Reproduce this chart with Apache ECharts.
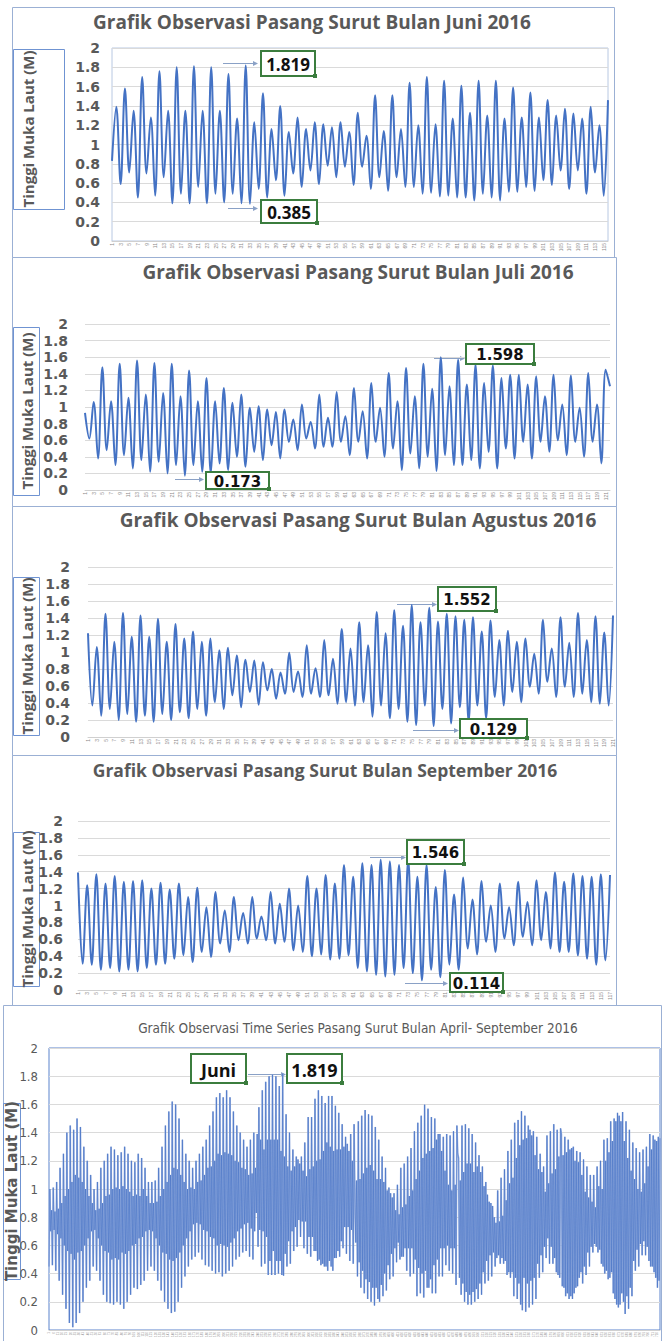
<!DOCTYPE html>
<html>
<head>
<meta charset="utf-8">
<script src="https://cdn.jsdelivr.net/npm/echarts@6/dist/echarts.min.js"></script>
<style>
html,body{margin:0;padding:0;background:#fff}
#chart{width:667px;height:1341px}
</style>
</head>
<body>
<div id="chart"></div>
<script>
// Successive high and low water levels (m), one array per month, 2016
const aprilTide = [
  0.45,1.00,0.70,0.85, 0.46,1.01,0.71,0.84, 0.42,1.05,0.68,0.86, 0.35,1.15,0.65,0.90, 0.25,1.25,0.60,0.95,
  0.15,1.40,0.56,1.00, 0.05,1.45,0.54,1.05, 0.02,1.42,0.50,1.10, 0.05,1.50,0.55,1.08, 0.12,1.44,0.56,1.05,
  0.20,1.30,0.60,1.00, 0.30,1.20,0.65,0.95, 0.35,1.10,0.70,0.90, 0.45,1.00,0.71,0.85, 0.42,1.05,0.65,0.86,
  0.35,1.15,0.60,0.90, 0.25,1.20,0.56,0.95, 0.20,1.25,0.55,0.96, 0.19,1.30,0.50,1.00, 0.18,1.28,0.51,1.01,
  0.20,1.24,0.50,1.00, 0.18,1.26,0.55,1.02, 0.15,1.30,0.54,1.00, 0.20,1.25,0.56,0.98, 0.25,1.20,0.60,0.95,
  0.30,1.19,0.61,0.96, 0.29,1.25,0.65,0.95, 0.32,1.22,0.66,1.00, 0.35,1.15,0.70,0.95, 0.42,1.05,0.71,0.90
];
const meiTide = [
  0.45,1.05,0.70,0.90, 0.42,1.06,0.65,0.91, 0.35,1.15,0.60,0.95, 0.28,1.30,0.55,1.00, 0.20,1.45,0.54,1.05,
  0.15,1.55,0.50,1.10, 0.12,1.62,0.49,1.15, 0.13,1.60,0.51,1.14, 0.20,1.50,0.55,1.10, 0.30,1.35,0.60,1.05,
  0.38,1.25,0.65,1.00, 0.45,1.20,0.70,1.01, 0.50,1.15,0.75,1.00, 0.52,1.20,0.76,1.05, 0.55,1.25,0.75,1.06,
  0.50,1.30,0.71,1.10, 0.46,1.35,0.70,1.15, 0.45,1.45,0.66,1.16, 0.42,1.55,0.65,1.20, 0.40,1.65,0.60,1.25,
  0.41,1.68,0.61,1.24, 0.38,1.65,0.60,1.26, 0.40,1.70,0.59,1.25, 0.42,1.65,0.62,1.24, 0.45,1.55,0.65,1.20,
  0.50,1.45,0.70,1.19, 0.52,1.40,0.72,1.15, 0.55,1.35,0.75,1.14, 0.56,1.30,0.76,1.10, 0.52,1.35,0.72,1.11,
  0.50,1.40,0.70,1.15
];
const juniTide = [
  0.83,1.39,0.59,1.58,0.71,1.35,0.45,1.70,0.70,1.28,0.47,1.76,0.66,1.35,0.39,1.80,0.49,1.35,0.39,1.81,
  0.56,1.35,0.39,1.80,0.49,1.35,0.40,1.73,0.49,1.27,0.39,1.819,0.385,1.23,0.54,1.53,0.45,1.16,0.63,1.40,
  0.47,1.13,0.70,1.28,0.56,1.16,0.73,1.23,0.59,1.21,0.78,1.18,0.66,1.23,0.77,1.13,0.58,1.33,0.77,1.09,
  0.54,1.51,0.66,1.14,0.52,1.51,0.66,1.16,0.56,1.64,0.56,1.20,0.49,1.70,0.50,1.21,0.46,1.66,0.47,1.27,
  0.45,1.61,0.45,1.33,0.42,1.66,0.49,1.30,0.45,1.66,0.42,1.27,0.51,1.59,0.51,1.28,0.56,1.54,0.52,1.28,
  0.63,1.46,0.58,1.30,0.73,1.37,0.54,1.32,0.73,1.27,0.49,1.39,0.71,1.20,0.47,1.46
];
const juliTide = [
  0.93,0.62,1.06,0.38,1.48,0.48,1.07,0.30,1.52,0.42,1.11,0.26,1.56,0.36,1.15,0.22,1.53,0.34,1.17,0.20,
  1.52,0.30,1.13,0.173,1.44,0.30,1.07,0.22,1.35,0.20,1.07,0.32,1.23,0.24,1.05,0.40,1.15,0.28,0.99,0.46,
  1.01,0.36,0.97,0.54,0.94,0.38,0.97,0.58,0.85,0.48,1.03,0.62,0.82,0.50,1.15,0.52,0.87,0.52,1.18,0.58,
  0.89,0.42,1.23,0.58,0.95,0.38,1.29,0.58,0.99,0.40,1.41,0.50,1.07,0.24,1.47,0.44,1.13,0.26,1.52,0.40,
  1.22,0.23,1.598,0.42,1.25,0.30,1.57,0.30,1.27,0.36,1.51,0.26,1.29,0.46,1.50,0.26,1.35,0.50,1.39,0.38,
  1.39,0.58,1.27,0.38,1.37,0.58,1.13,0.46,1.39,0.60,1.03,0.42,1.38,0.58,0.99,0.40,1.41,0.58,1.03,0.32,
  1.45,1.25
];
const agustusTide = [
  1.22,0.37,1.06,0.25,1.45,0.33,1.12,0.20,1.46,0.27,1.18,0.18,1.43,0.25,1.18,0.18,1.39,0.27,1.12,0.20,
  1.33,0.29,1.16,0.22,1.24,0.33,1.12,0.25,1.16,0.41,1.02,0.33,1.05,0.49,0.96,0.35,0.91,0.53,0.90,0.38,
  0.88,0.55,0.80,0.45,0.76,0.51,0.99,0.53,0.77,0.47,1.08,0.51,0.81,0.47,1.14,0.49,0.92,0.39,1.27,0.41,
  1.04,0.37,1.35,0.41,1.08,0.24,1.47,0.37,1.22,0.22,1.49,0.33,1.31,0.18,1.552,0.14,1.35,0.37,1.52,0.129,
  1.36,0.33,1.45,0.16,1.42,0.35,1.38,0.18,1.41,0.37,1.24,0.22,1.37,0.47,1.14,0.37,1.25,0.53,1.12,0.41,
  1.16,0.59,0.98,0.51,1.38,0.65,1.04,0.47,1.41,0.59,1.11,0.47,1.46,0.51,1.14,0.41,1.42,0.39,1.23,0.37,
  1.43
];
const septemberTide = [
  1.39,0.31,1.24,0.30,1.37,0.24,1.26,0.26,1.35,0.22,1.28,0.24,1.29,0.22,1.30,0.26,1.20,0.30,1.27,0.31,
  1.19,0.37,1.26,0.41,1.10,0.33,1.21,0.45,0.98,0.39,1.16,0.55,0.94,0.45,1.10,0.59,0.91,0.55,1.10,0.61,
  0.87,0.59,1.16,0.55,1.02,0.57,1.20,0.47,1.00,0.45,1.35,0.40,1.20,0.42,1.36,0.36,1.26,0.37,1.48,0.41,
  1.34,0.26,1.50,0.22,1.48,0.18,1.54,0.16,1.52,0.18,1.48,0.26,1.546,0.20,1.34,0.114,1.48,0.24,1.22,0.15,
  1.42,0.30,1.13,0.24,1.33,0.49,1.07,0.42,1.29,0.57,1.00,0.45,1.26,0.61,0.98,0.53,1.28,0.63,1.04,0.53,
  1.30,0.59,1.16,0.49,1.39,0.45,1.28,0.45,1.38,0.41,1.35,0.37,1.34,0.30,1.37,0.35,1.36
];

const chartTitles = [
  'Grafik Observasi Pasang Surut Bulan Juni 2016',
  'Grafik Observasi Pasang Surut Bulan Juli 2016',
  'Grafik Observasi Pasang Surut Bulan Agustus 2016',
  'Grafik Observasi Pasang Surut Bulan September 2016',
  'Grafik Observasi Time Series Pasang Surut Bulan April- September 2016'
];
const yAxisTitle = 'Tinggi Muka Laut (M)';
const yTickMin = 0, yTickMax = 2, yTickStep = 0.2;

// April–September combined series
const allTide = [].concat(aprilTide, meiTide, juniTide, juliTide, agustusTide, septemberTide);

const LINE = '#4472C4';
const GRID = '#DADADA';
const TXT = '#595959';
const FRAME = '#9BB0D4';
const GREEN = '#3B7D3E';

// layout of the five stacked charts
const panels = [
  { data: juniTide, grid: {left:112, top:48, width:496, height:193}, border:true, borderColor:'#B8C8E2',
    titleX:312, titleY:22, titleSize:19, labX:28, labY:129, box:[13,49,51,160], tickMargin:12 },
  { data: juliTide, grid: {left:85, top:324, width:525, height:166}, border:false,
    titleX:358, titleY:272, titleSize:19, labX:27, labY:411, box:[13,327,26,168], tickMargin:17 },
  { data: agustusTide, grid: {left:88, top:567, width:525, height:170}, border:false,
    titleX:358, titleY:520, titleSize:19, labX:27, labY:656, box:[13,577,26,158], tickMargin:18 },
  { data: septemberTide, grid: {left:78, top:821, width:532, height:169}, border:false,
    titleX:325, titleY:770, titleSize:17.5, labX:27, labY:909, box:[13,832,26,154], tickMargin:15 },
  { data: allTide, grid: {left:49, top:1048, width:611, height:282}, border:true, borderColor:'#5B83CC',
    titleX:358, titleY:1028, titleSize:13.5, labX:12, labY:1191, box:[3,1103,17,176], tickMargin:11 }
];

const grids = [], xAxes = [], yAxes = [], series = [];
panels.forEach((p, i) => {
  const big = i === 4;
  grids.push(Object.assign({ show: p.border, borderColor: p.borderColor || '#ccc', borderWidth: 1,
    backgroundColor: 'transparent', containLabel: false }, p.grid));
  xAxes.push({
    type: 'category', gridIndex: i, boundaryGap: false,
    data: p.data.map((_, k) => String(k + 1)),
    axisLine: { show: true, lineStyle: { color: '#D0D0D0' } },
    axisTick: { show: false },
    axisLabel: { fontSize: big ? 3 : 5, rotate: 90, color: '#8A8A8A', interval: big ? 4 : 1, margin: 2,
      fontFamily: 'Liberation Sans' },
    splitLine: { show: false }
  });
  yAxes.push({
    type: 'value', gridIndex: i, min: yTickMin, max: yTickMax, interval: yTickStep,
    axisLine: { show: false }, axisTick: { show: false },
    splitLine: { lineStyle: { color: GRID, width: 1 } },
    axisLabel: big
      ? { fontSize: 13, color: TXT, margin: p.tickMargin, fontFamily: 'Liberation Sans Narrow, DejaVu Sans Condensed, sans-serif' }
      : { fontSize: 14, fontWeight: 'bold', color: TXT, margin: p.tickMargin, fontFamily: 'DejaVu Sans' }
  });
  if (big) {
    // soft wide stroke gives the light band, thin stroke on top gives the darker traces
    series.push({
      type: 'line', xAxisIndex: i, yAxisIndex: i, data: p.data,
      showSymbol: false, symbol: 'none', smooth: false,
      lineStyle: { color: '#A4B9E4', width: 1.7 }, silent: true, animation: false
    });
    series.push({
      type: 'line', xAxisIndex: i, yAxisIndex: i, data: p.data,
      showSymbol: false, symbol: 'none', smooth: false,
      lineStyle: { color: '#3F6CC2', width: 0.55 }, silent: true, animation: false
    });
  } else {
    series.push({
      type: 'line', xAxisIndex: i, yAxisIndex: i, data: p.data,
      showSymbol: false, symbol: 'none', smooth: 0.35,
      lineStyle: { color: LINE, width: 2 }, silent: true, animation: false
    });
  }
});

const graphics = [];
// panel frames
[[12,7,602,250],[12,257,604,249],[12,506,604,249],[12,755,604,250],[3,1005,658,340]].forEach(r => {
  graphics.push({ type:'rect', shape:{x:r[0]+0.5,y:r[1]+0.5,width:r[2],height:r[3]},
    style:{fill:'none', stroke:FRAME, lineWidth:1}, z:-1, silent:true });
});
panels.forEach((p, i) => {
  const big = i === 4;
  graphics.push({ type:'text', x:p.titleX, y:p.titleY, silent:true,
    style:{ text: chartTitles[i], textAlign:'center', textVerticalAlign:'middle', fill: TXT,
      font: big ? p.titleSize + 'px "Liberation Sans Narrow", "DejaVu Sans Condensed", sans-serif'
                : 'bold ' + p.titleSize + 'px "Open Sans", sans-serif' } });
  graphics.push({ type:'rect', shape:{x:p.box[0]+0.5,y:p.box[1]+0.5,width:p.box[2],height:p.box[3]},
    style:{fill:'none', stroke:'#6F93D2', lineWidth:1}, silent:true });
  graphics.push({ type:'text', x:p.labX, y:p.labY, rotation: Math.PI/2, silent:true,
    style:{ text: yAxisTitle, textAlign:'center', textVerticalAlign:'middle', fill: TXT,
      font: big ? 'bold 15px "DejaVu Sans", sans-serif' : 'bold 15px "Open Sans", sans-serif' } });
});

function arrow(x1, x2, y) {
  graphics.push({ type:'line', shape:{x1:x1, y1:y+0.5, x2:x2-3, y2:y+0.5}, style:{stroke:'#8AA1C6', lineWidth:1}, silent:true });
  graphics.push({ type:'polygon', shape:{points:[[x2,y+0.5],[x2-5,y-2],[x2-5,y+3]]}, style:{fill:'#8AA1C6'}, silent:true });
}
function tag(x, y, w, h, text, font) {
  graphics.push({ type:'rect', shape:{x:x, y:y, width:w, height:h},
    style:{fill:'#fff', stroke:GREEN, lineWidth:2}, z:10, silent:true });
  graphics.push({ type:'rect', shape:{x:x+w-2, y:y+h-2, width:4, height:4}, style:{fill:GREEN}, z:11, silent:true });
  graphics.push({ type:'text', x:x+w/2, y:y+h/2+1, z:12, silent:true,
    style:{ text:text, textAlign:'center', textVerticalAlign:'middle', fill:'#111', font:font } });
}
const f1 = 'bold 17px "Open Sans", sans-serif';
const f2 = 'bold 15px "DejaVu Sans", sans-serif';
arrow(223, 258, 63);  tag(261, 51, 54, 25, '1.819', f1);
arrow(228, 258, 208); tag(261, 200, 56, 23, '0.385', f1);
arrow(434, 465, 358); tag(466, 344, 68, 20, '1.598', f2);
arrow(175, 204, 479); tag(206, 472, 63, 17, '0.173', f2);
arrow(397, 437, 604); tag(438, 587, 58, 24, '1.552', f2);
arrow(413, 459, 730); tag(460, 719, 67, 19, '0.129', f2);
arrow(370, 406, 857); tag(407, 840, 57, 24, '1.546', f2);
arrow(405, 448, 983); tag(450, 973, 53, 19, '0.114', f2);
arrow(248, 286, 1074);
tag(191, 1054, 55, 29, 'Juni', 'bold 18px "Open Sans", sans-serif');
tag(287, 1054, 55, 29, '1.819', 'bold 18px "Open Sans", sans-serif');

const chart = echarts.init(document.getElementById('chart'), null, { renderer: 'svg', width: 667, height: 1341 });
chart.setOption({
  animation: false,
  backgroundColor: '#fff',
  grid: grids, xAxis: xAxes, yAxis: yAxes, series: series,
  graphic: graphics
});
</script>
</body>
</html>
